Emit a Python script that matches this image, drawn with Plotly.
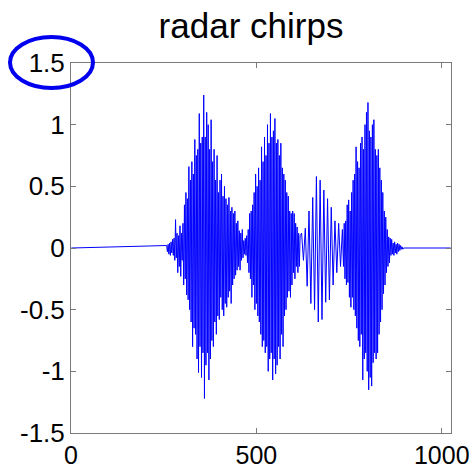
import numpy as np
import plotly.graph_objects as go

title_text = "radar chirps"

# signal: flat zero outside the bursts
n_samples = 1024

# segment 1 (bursts 1 and 2): starting sample, sample step, values
seg1_start = 258
seg1_step = 2
seg1_values = [
    0.02, -0.03, 0.03, -0.05, 0.04, -0.06, 0.05, -0.04, 0.07, -0.06,
    0.08, -0.1, 0.23, -0.08, 0.12, -0.2, 0.1, -0.15, 0.18, -0.23,
    0.12, -0.1, 0.2, -0.3, 0.35, -0.25, 0.45, -0.38, 0.4, -0.42,
    0.66, -0.5, 0.55, -0.6, 0.7, -0.8, 0.6, -0.65, 0.88, -0.7,
    0.75, -0.9, 0.8, -1.01, 1.09, -0.8, 0.85, -1.05, 0.9, -0.85,
    1.24, -1.22, 0.9, -0.95, 1.1, -0.85, 1.0, -1.07, 0.8, -0.9,
    1.04, -0.75, 0.7, -0.8, 0.8, -0.6, 0.55, -0.7, 0.75, -0.55,
    0.45, -0.58, 0.55, -0.4, 0.6, -0.5, 0.42, -0.55, 0.5, -0.45,
    0.4, -0.48, 0.35, -0.4, 0.41, -0.35, 0.3, -0.45, 0.33, -0.3,
    0.28, -0.25, 0.3, -0.22, 0.2, -0.18, 0.22, -0.15, 0.14, -0.18,
    0.12, -0.1, 0.15, -0.08, 0.06, -0.05, 0.08, -0.06, 0.1, -0.12,
    0.15, -0.2, 0.28, -0.25, 0.3, -0.4, 0.35, -0.3, 0.45, -0.5,
    0.6, -0.45, 0.5, -0.55, 0.65, -0.6, 0.55, -0.7, 0.82, -0.8,
    0.7, -0.75, 0.9, -0.85, 0.75, -0.8, 1.0, -1.0, 0.85, -0.9,
    1.09, -0.85, 0.9, -1.07, 0.95, -0.9, 1.05, -1.02, 0.85, -0.95,
    0.88, -0.8, 0.75, -0.9, 0.85, -0.7, 0.65, -0.8, 0.6, -0.55,
    0.55, -0.5, 0.45, -0.4, 0.42, -0.35, 0.3, -0.4, 0.28, -0.3,
    0.3, -0.2, 0.28, -0.25, 0.2, -0.15, 0.17, -0.2, 0.12, -0.15,
    0.1,
]

# segment 2 (slow chirp between bursts 2 and 3)
seg2_start = 622
seg2_step = 5
seg2_values = [
    0.12, -0.1, 0.16, -0.31, 0.3, -0.45, 0.41, -0.5, 0.58, -0.6,
    0.55, -0.58, 0.47, -0.44, 0.4, -0.42, 0.33, -0.3, 0.22, -0.2,
    0.2, -0.15, 0.15,
]

# segment 3 (burst 3)
seg3_start = 735
seg3_step = 2
seg3_values = [
    -0.15, 0.2, -0.25, 0.22, -0.3, 0.35, -0.28, 0.39, -0.4, 0.3,
    -0.48, 0.45, -0.4, 0.55, -0.5, 0.6, -0.55, 0.82, -0.65, 0.7,
    -0.75, 0.65, -0.8, 0.85, -0.7, 0.9, -1.07, 0.8, -0.9, 1.0,
    -0.85, 1.1, -1.0, 1.18, -1.15, 0.95, -1.05, 0.9, -1.12, 1.0,
    -0.93, 1.04, -0.85, 0.8, -0.9, 0.75, -0.85, 0.8, -0.7, 0.65,
    -0.6, 0.55, -0.5, 0.45, -0.37, 0.3, -0.3, 0.25, -0.2, 0.15,
    -0.15, 0.09, -0.12, 0.08, -0.06, 0.07, -0.05, 0.04, -0.06, 0.05,
    -0.04, 0.03, -0.05, 0.04, -0.03, 0.03, -0.02, 0.02, -0.01, 0.01,
    -0.01, 0.0,
]

x_ticks = [0, 500, 1000]
x_tick_labels = ["0", "500", "1000"]
y_ticks = [-1.5, -1, -0.5, 0, 0.5, 1, 1.5]
y_tick_labels = ["-1.5", "-1", "-0.5", "0", "0.5", "1", "1.5"]

# assemble the series
xs = [1]
ys = [0.0]
for start, step, vals in [(seg1_start, seg1_step, seg1_values),
                          (seg2_start, seg2_step, seg2_values),
                          (seg3_start, seg3_step, seg3_values)]:
    xs.extend([int(v) for v in start + step * np.arange(len(vals))])
    ys.extend(vals)
xs.append(n_samples)
ys.append(0.0)

FONT = "Liberation Sans, Arial, Helvetica, sans-serif"
AXIS_COLOR = "#7a7a7a"

fig = go.Figure()
fig.add_trace(go.Scatter(x=xs, y=ys, mode="lines",
                         line=dict(color="#0000ff", width=1, simplify=False),
                         hoverinfo="skip", showlegend=False))

L, R, T, B = 71, 22, 63, 35
W, H = 473, 468
pw, ph = W - L - R, H - T - B

fig.update_layout(
    width=W, height=H,
    margin=dict(l=L, r=R, t=T, b=B, autoexpand=False),
    paper_bgcolor="white", plot_bgcolor="white",
    title=dict(text=title_text, x=251 / W, xanchor="center",
               y=1 - 26 / H, yanchor="middle", yref="container",
               font=dict(family=FONT, size=35, color="black")),
    xaxis=dict(range=[0, 1025], tickvals=x_ticks, ticktext=x_tick_labels,
               ticks="inside", ticklen=5, tickcolor=AXIS_COLOR,
               showline=True, linecolor=AXIS_COLOR, linewidth=1, mirror="ticks",
               showgrid=False, zeroline=False, ticklabelstandoff=0,
               automargin=False,
               tickfont=dict(family=FONT, size=25, color="black")),
    yaxis=dict(range=[-1.5, 1.5], tickvals=y_ticks, ticktext=y_tick_labels,
               ticks="inside", ticklen=5, tickcolor=AXIS_COLOR,
               showline=True, linecolor=AXIS_COLOR, linewidth=1, mirror="ticks",
               showgrid=False, zeroline=False, ticklabelstandoff=0,
               automargin=False,
               tickfont=dict(family=FONT, size=26, color="black")),
)

# blue highlight ellipse around the top y tick label
fig.add_shape(type="circle", xref="paper", yref="paper",
              x0=(10 - L) / pw, x1=(93 - L) / pw,
              y0=(H - B - 88) / ph, y1=(H - B - 37) / ph,
              line=dict(color="#0000ee", width=4), layer="above")

fig.write_html("out.html")
